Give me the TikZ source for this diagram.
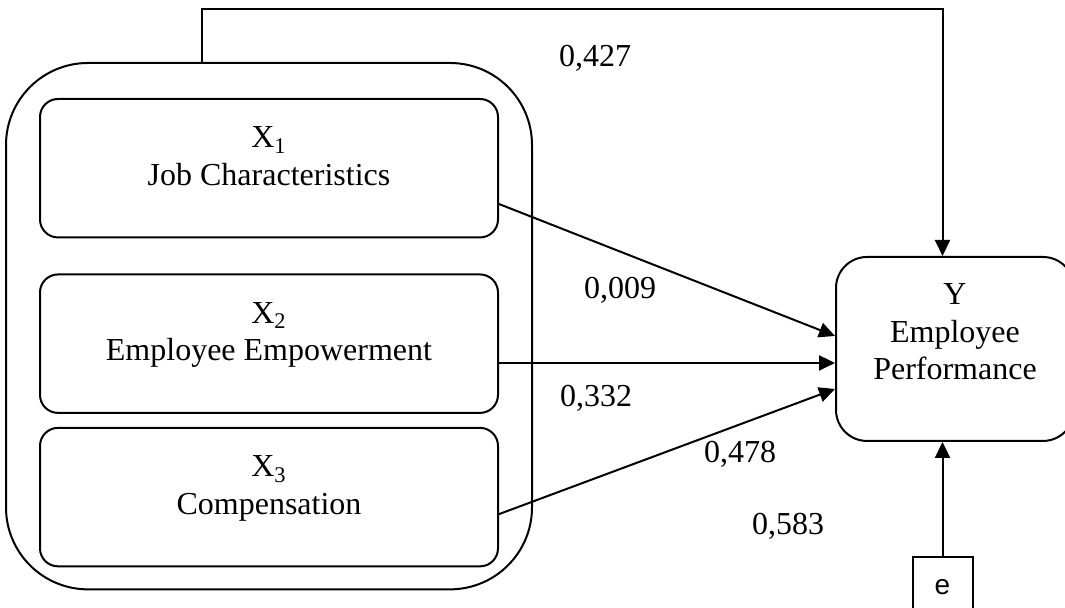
\documentclass[tikz,border=0pt]{standalone}
\usepackage{fontspec}
\setmainfont{Liberation Serif}
\newfontfamily\esans{Liberation Sans}
\usetikzlibrary{arrows.meta,positioning,fit}

\begin{document}
\begin{tikzpicture}[x=1pt,y=1pt,line width=1pt,
    every node/.style={font=\fontsize{16}{18.75}\selectfont},
    var/.style={draw,rounded corners=9pt,align=center,minimum width=229pt,inner ysep=14pt,text depth=12pt,anchor=north},
    arr/.style={-{Triangle[length=8pt,width=7.5pt]}}]
      \useasboundingbox (0,0) rectangle (532.5,304);
      \node[var] (x1) at (134.5,255) {X\textsubscript{1}\\Job Characteristics};
      \node[var,below=17.5pt of x1] (x2) {X\textsubscript{2}\\Employee Empowerment};
      \node[var,below=6.5pt of x2] (x3) {X\textsubscript{3}\\Compensation};
      \node[draw,rounded corners=41pt,fit={([yshift=6.5pt]x1.north west) (x3.south east)},inner xsep=16.5pt,inner ysep=11pt] (grp) {};
      \node[draw,rounded corners=15.5pt,align=center,minimum width=119pt,inner ysep=13.5pt,text depth=17pt,anchor=north] (Y) at (477.5,176) {Y\\Employee\\Performance};
      \node[draw,font=\esans\fontsize{14}{16}\selectfont,minimum width=30pt,minimum height=30pt,inner sep=0pt,below=57pt of Y,xshift=-6.25pt] (e) {e};
      % path coefficients
      \node (c1) at (297.5,275) {0,427};
      \node (c2) at (310,159) {0,009};
      \node (c3) at (298,105) {0,332};
      \node (c4) at (370,77) {0,478};
      \node (c5) at (394,41) {0,583};
      \draw[arr] ([xshift=-33.5pt]grp.north) -- ++(0,26.5) -| (e |- Y.north);
      \foreach \a/\s/\t in {x1/-17.9/6.5,x3/-8.5/-20} \draw[arr] ([yshift=\s pt]\a.east) -- ([yshift=\t pt]Y.west);
      \draw[arr] ([yshift=-7pt]Y.west -| x2.east) -- ([yshift=-7pt]Y.west);
      \draw[arr] (e) -- (e |- Y.south);
    \end{tikzpicture}
\end{document}
